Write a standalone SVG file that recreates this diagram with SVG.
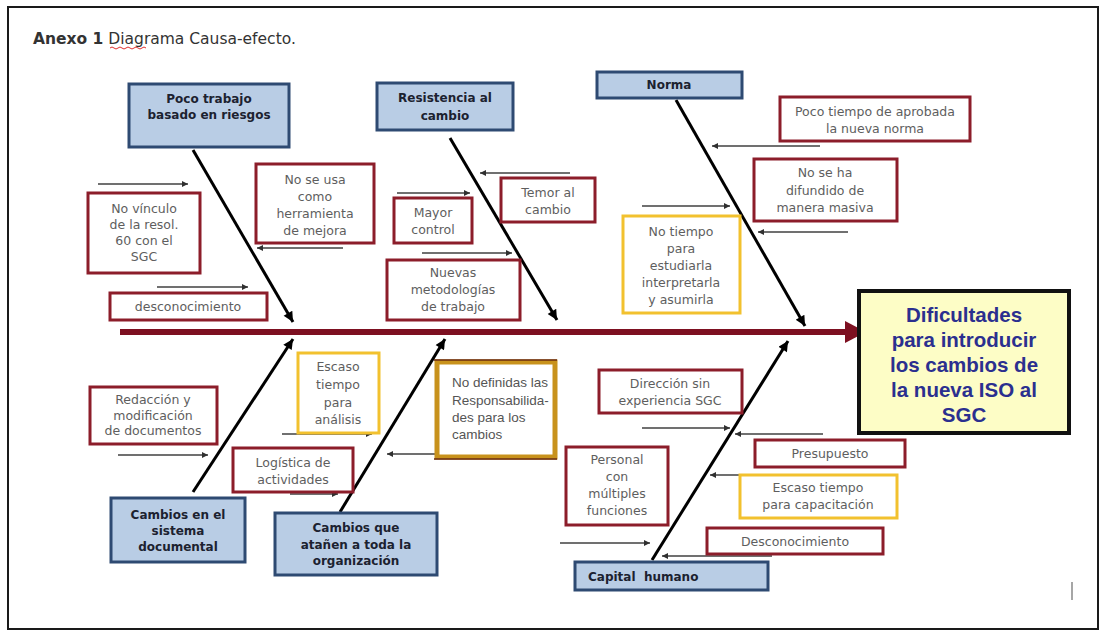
<svg xmlns="http://www.w3.org/2000/svg" width="1105" height="635" viewBox="0 0 1105 635">
<defs>
<style>
.cat{fill:#b9cde5;stroke:#2e4a72;stroke-width:3}
.cat-t{font-family:"DejaVu Sans",sans-serif;font-weight:bold;font-size:12px;fill:#1c2230;text-anchor:middle}
.cat-l{font-family:"DejaVu Sans",sans-serif;font-weight:bold;font-size:12px;fill:#1c2230;text-anchor:start}
.cause{fill:#ffffff;stroke:#8c1d2a;stroke-width:3}
.ycause{fill:#ffffff;stroke:#f2c12e;stroke-width:3}
.ct{font-family:"DejaVu Sans",sans-serif;font-size:12.5px;fill:#5e5e5e;text-anchor:middle}
.bone{stroke:#000;stroke-width:3;fill:none;marker-end:url(#bh)}
.sa{stroke:#404040;stroke-width:1.3;fill:none;marker-end:url(#sh)}
</style>
<marker id="bh" markerUnits="userSpaceOnUse" markerWidth="13" markerHeight="10" refX="10" refY="5" viewBox="0 0 10 10" orient="auto"><path d="M0,0 L10,5 L0,10 z" fill="#000"/></marker>
<marker id="sh" markerUnits="userSpaceOnUse" markerWidth="8" markerHeight="6" refX="10" refY="5" viewBox="0 0 10 10" orient="auto"><path d="M0,0 L10,5 L0,10 z" fill="#303030"/></marker>
</defs>
<rect x="0" y="0" width="1105" height="635" fill="#ffffff"/>
<rect x="8" y="7" width="1090" height="622" fill="none" stroke="#1a1a1a" stroke-width="2"/>
<g id="title">
<text x="33" y="44" font-family="DejaVu Sans,sans-serif" font-size="15.5" fill="#333"><tspan font-weight="bold">Anexo 1</tspan> Diagrama Causa-efecto.</text>
<path d="M110,48 q2,-2 4,0 t4,0 t4,0 t4,0 t4,0 t4,0 t4,0 t4,0 t4,0" fill="none" stroke="#e03030" stroke-width="1"/>
</g>
<g id="connectors">
<line x1="120" y1="332" x2="848" y2="332" stroke="#7d1021" stroke-width="6"/>
<polygon points="866,332 845,321 845,343" fill="#7d1021"/>
<line class="bone" x1="193" y1="150" x2="293" y2="322"/>
<line class="bone" x1="450" y1="138" x2="557" y2="320"/>
<line class="bone" x1="676" y1="100" x2="805" y2="326"/>
<line class="bone" x1="193" y1="492" x2="293" y2="339"/>
<line class="bone" x1="340" y1="512" x2="445" y2="339"/>
<line class="bone" x1="652" y1="560" x2="788" y2="341"/>
<line class="sa" x1="98" y1="184" x2="188" y2="184"/>
<line class="sa" x1="343" y1="248" x2="257" y2="248"/>
<line class="sa" x1="157" y1="287" x2="248" y2="287"/>
<line class="sa" x1="397" y1="193" x2="470" y2="193"/>
<line class="sa" x1="570" y1="173" x2="480" y2="173"/>
<line class="sa" x1="422" y1="253" x2="512" y2="253"/>
<line class="sa" x1="820" y1="146" x2="712" y2="146"/>
<line class="sa" x1="848" y1="232" x2="758" y2="232"/>
<line class="sa" x1="642" y1="206" x2="730" y2="206"/>
<line class="sa" x1="118" y1="455" x2="208" y2="455"/>
<line class="sa" x1="282" y1="434" x2="372" y2="434"/>
<line class="sa" x1="436" y1="454" x2="387" y2="454"/>
<line class="sa" x1="290" y1="494" x2="338" y2="494"/>
<line class="sa" x1="642" y1="428" x2="730" y2="428"/>
<line class="sa" x1="823" y1="434" x2="735" y2="434"/>
<line class="sa" x1="745" y1="475" x2="710" y2="475"/>
<line class="sa" x1="772" y1="556" x2="662" y2="556"/>
<line class="sa" x1="560" y1="543" x2="650" y2="543"/>
</g>
<g id="effect">
<rect x="859" y="291" width="210" height="142" fill="#fdfdc6" stroke="#111" stroke-width="4"/>
<g font-family="Liberation Sans,sans-serif" font-weight="bold" font-size="20.5" fill="#2b2f8f" text-anchor="middle">
<text x="964" y="322">Dificultades</text>
<text x="964" y="347">para introducir</text>
<text x="964" y="372">los cambios de</text>
<text x="964" y="397">la nueva ISO al</text>
<text x="964" y="422">SGC</text>
</g>
</g>
<g id="cat-riesgos"><rect class="cat" x="129" y="84" width="160" height="63"/><text class="cat-t" x="209" y="103">Poco trabajo</text><text class="cat-t" x="209" y="119">basado en riesgos</text></g>
<g id="cat-resistencia"><rect class="cat" x="377" y="83" width="136" height="47"/><text class="cat-t" x="445" y="102">Resistencia al</text><text class="cat-t" x="445" y="120">cambio</text></g>
<g id="cat-norma"><rect class="cat" x="597" y="72" width="145" height="26"/><text class="cat-t" x="669" y="89">Norma</text></g>
<g id="cat-documental"><rect class="cat" x="111" y="498" width="134" height="64"/><text class="cat-t" x="178" y="519">Cambios en el</text><text class="cat-t" x="178" y="535">sistema</text><text class="cat-t" x="178" y="551">documental</text></g>
<g id="cat-organizacion"><rect class="cat" x="275" y="513" width="162" height="62"/><text class="cat-t" x="356" y="532">Cambios que</text><text class="cat-t" x="356" y="549">atañen a toda la</text><text class="cat-t" x="356" y="565">organización</text></g>
<g id="cat-capital"><rect class="cat" x="575" y="562" width="193" height="28"/><text class="cat-l" x="588" y="581" xml:space="preserve">Capital  humano</text></g>
<g id="c-vinculo"><rect class="cause" x="88" y="193" width="112" height="80"/><text class="ct" x="144" y="213">No vínculo</text><text class="ct" x="144" y="229">de la resol.</text><text class="ct" x="144" y="245">60 con el</text><text class="ct" x="144" y="261">SGC</text></g>
<g id="c-nouso"><rect class="cause" x="256" y="164" width="118" height="79"/><text class="ct" x="315" y="184">No se usa</text><text class="ct" x="315" y="201">como</text><text class="ct" x="315" y="218">herramienta</text><text class="ct" x="315" y="235">de mejora</text></g>
<g id="c-desc1"><rect class="cause" x="110" y="293" width="157" height="27"/><text class="ct" x="188" y="311">desconocimiento</text></g>
<g id="c-mayor"><rect class="cause" x="394" y="198" width="78" height="45"/><text class="ct" x="433" y="217">Mayor</text><text class="ct" x="433" y="234">control</text></g>
<g id="c-temor"><rect class="cause" x="501" y="178" width="94" height="44"/><text class="ct" x="548" y="197">Temor al</text><text class="ct" x="548" y="214">cambio</text></g>
<g id="c-nuevas"><rect class="cause" x="387" y="260" width="133" height="60"/><text class="ct" x="453" y="277">Nuevas</text><text class="ct" x="453" y="294">metodologías</text><text class="ct" x="453" y="311">de trabajo</text></g>
<g id="c-poco"><rect class="cause" x="780" y="97" width="190" height="44"/><text class="ct" x="875" y="116">Poco tiempo de aprobada</text><text class="ct" x="875" y="133">la nueva norma</text></g>
<g id="c-difundido"><rect class="cause" x="754" y="159" width="143" height="62"/><text class="ct" x="825" y="177">No se ha</text><text class="ct" x="825" y="195">difundido de</text><text class="ct" x="825" y="212">manera masiva</text></g>
<g id="c-notiempo"><rect class="ycause" x="623" y="216" width="117" height="97"/><text class="ct" x="681" y="236">No tiempo</text><text class="ct" x="681" y="253">para</text><text class="ct" x="681" y="270">estudiarla</text><text class="ct" x="681" y="287">interpretarla</text><text class="ct" x="681" y="304">y asumirla</text></g>
<g id="c-redaccion"><rect class="cause" x="90" y="387" width="127" height="57"/><text class="ct" x="153" y="404">Redacción y</text><text class="ct" x="153" y="420">modificación</text><text class="ct" x="153" y="435">de documentos</text></g>
<g id="c-escaso1"><rect class="ycause" x="298" y="353" width="81" height="80"/><text class="ct" x="338" y="371">Escaso</text><text class="ct" x="338" y="389">tiempo</text><text class="ct" x="338" y="407">para</text><text class="ct" x="338" y="424">análisis</text></g>
<g id="c-logistica"><rect class="cause" x="233" y="448" width="120" height="44"/><text class="ct" x="293" y="467">Logística de</text><text class="ct" x="293" y="484">actividades</text></g>
<g id="c-nodefinidas"><rect x="437" y="362" width="118" height="95" fill="#fff" stroke="#c8921c" stroke-width="5"/><line x1="434" y1="360" x2="557" y2="360" stroke="#6a2a10" stroke-width="1.5"/><line x1="434" y1="459" x2="557" y2="459" stroke="#6a2a10" stroke-width="1.5"/>
<g font-family="Liberation Sans Narrow,Liberation Sans,sans-serif" font-size="13.5" fill="#555"><text x="452" y="387">No definidas las</text><text x="452" y="405">Responsabilida-</text><text x="452" y="422">des para los</text><text x="452" y="439">cambios</text></g></g>
<g id="c-direccion"><rect class="cause" x="599" y="370" width="143" height="43"/><text class="ct" x="670" y="388">Dirección sin</text><text class="ct" x="670" y="405">experiencia SGC</text></g>
<g id="c-presupuesto"><rect class="cause" x="755" y="440" width="150" height="27"/><text class="ct" x="830" y="458">Presupuesto</text></g>
<g id="c-personal"><rect class="cause" x="566" y="447" width="102" height="78"/><text class="ct" x="617" y="464">Personal</text><text class="ct" x="617" y="481">con</text><text class="ct" x="617" y="498">múltiples</text><text class="ct" x="617" y="515">funciones</text></g>
<g id="c-escaso2"><rect class="ycause" x="740" y="475" width="157" height="43"/><text class="ct" x="818" y="492">Escaso tiempo</text><text class="ct" x="818" y="509">para capacitación</text></g>
<g id="c-desc2"><rect class="cause" x="707" y="528" width="176" height="26"/><text class="ct" x="795" y="546">Desconocimiento</text></g>
<line x1="1072" y1="582" x2="1072" y2="600" stroke="#888" stroke-width="1.5"/>
</svg>
